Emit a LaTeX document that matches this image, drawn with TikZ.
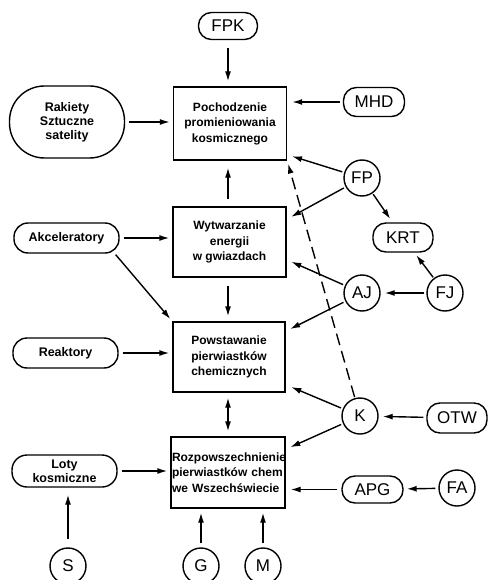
\documentclass[tikz,border=0pt]{standalone}
\usepackage{fontspec}
\setmainfont{Liberation Sans}
\usetikzlibrary{arrows.meta,calc}
\begin{document}
\begin{tikzpicture}[x=1pt,y=-1pt,
  line width=1.4pt,
  arr/.style={-{Latex[length=10pt,width=6pt]}},
  dbl/.style={{Latex[length=10pt,width=6pt]}-{Latex[length=10pt,width=6pt]}},
  boxnode/.style={draw,rectangle,align=center,font=\bfseries\fontsize{12}{15.5}\selectfont,inner sep=1pt},
  pill/.style={draw,rectangle,rounded corners=13pt,font=\fontsize{17}{19}\selectfont,inner sep=0pt},
  lpill/.style={draw,rectangle,rounded corners=14pt,align=center,font=\bfseries\fontsize{12.5}{14}\selectfont,inner sep=0pt},
  circ/.style={draw,circle,minimum size=36pt,inner sep=0pt,font=\fontsize{17}{19}\selectfont},
  dashline/.style={dash pattern=on 12pt off 6pt}
]
\useasboundingbox (0,0) rectangle (487,580);
% boxes
\node[boxnode,minimum width=113pt,minimum height=73pt] (b1) at (230,123.5) {Pochodzenie\\promieniowania\\kosmicznego};
\node[boxnode,minimum width=113pt,minimum height=70pt] (b2) at (229.5,242) {Wytwarzanie\\energii\\w gwiazdach};
\node[boxnode,minimum width=112pt,minimum height=70pt] (b3) at (229,357) {Powstawanie\\pierwiastków\\chemicznych};
\node[boxnode,minimum width=114pt,minimum height=71pt,align=left,text width=112pt] (b4) at (228,472.5) {Rozpowszechnienie\\pierwiastków chem\\we Wszechświecie};
% pills
\node[pill,minimum width=59pt,minimum height=27pt] (FPK) at (228,26) {FPK};
\node[pill,minimum width=61pt,minimum height=29pt] (MHD) at (374,102) {MHD};
\node[pill,minimum width=60pt,minimum height=29pt] (KRT) at (403,237.5) {KRT};
\node[pill,minimum width=60pt,minimum height=30pt] (OTW) at (457,418) {OTW};
\node[pill,minimum width=61pt,minimum height=27pt] (APG) at (372.5,489.5) {APG};
\node[lpill,rounded corners=35pt,minimum width=115pt,minimum height=72pt] (rak) at (67,122) {Rakiety\\Sztuczne\\satelity};
\node[lpill,minimum width=105pt,minimum height=30pt] (akc) at (66.5,238) {Akceleratory};
\node[lpill,minimum width=105pt,minimum height=30pt] (reak) at (65.5,353) {Reaktory};
\node[lpill,rounded corners=15pt,minimum width=105pt,minimum height=32pt] (loty) at (64.5,471) {Loty\\kosmiczne};
% circles
\node[circ] (FP) at (362,178) {FP};
\node[circ] (AJ) at (362,293) {AJ};
\node[circ] (FJ) at (445,293) {FJ};
\node[circ] (K) at (360,416) {K};
\node[circ] (FA) at (457,488) {FA};
\node[circ] (S) at (68,566) {S};
\node[circ] (G) at (201,566) {G};
\node[circ] (M) at (263,566) {M};
% connectors
\draw[arr,shorten <=8pt,shorten >=5pt] (FPK.south) -- (FPK.south |- b1.north);
\draw[arr,shorten <=4pt,shorten >=3pt] (rak.east) -- (rak.east -| b1.west);
\draw[arr,shorten <=3pt,shorten >=5pt] (MHD.west) -- (MHD.west -| b1.east);
\draw[arr,shorten <=2pt,shorten >=5pt] (FP) -- ($(b1.south east)+(0,-6)$);
\draw[arr,shorten <=7pt,shorten >=7pt] (b2.north -| FPK.south) -- (b1.south -| FPK.south);
\draw[arr,dashline,shorten <=1pt,shorten >=3pt] (K) -- (b1.south east);
\draw[arr,shorten <=2pt,shorten >=5pt] (FP) -- ($(b2.north east)+(0,13)$);
\draw[arr,shorten <=1pt,shorten >=4pt] (FP) -- (KRT);
\draw[arr,shorten <=1pt,shorten >=3pt] (FJ) -- (KRT);
\draw[arr,shorten <=2pt,shorten >=4pt] (FJ) -- (AJ);
\draw[arr,shorten <=2pt,shorten >=5pt] (AJ) -- ($(b2.south east)+(0,-18)$);
\draw[arr,shorten <=2pt,shorten >=5pt] (AJ) -- ($(b3.north east)+(0,10)$);
\draw[arr,shorten <=4pt,shorten >=3pt] (akc.east) -- (akc.east -| b2.west);
\draw[arr,shorten >=3pt] ($(akc.south east)+(-4,1)$) -- (b3.north west);
\draw[arr,shorten <=8pt,shorten >=5pt] (b2.south -| FPK.south) -- (b3.north -| FPK.south);
\draw[arr,shorten <=4pt,shorten >=3pt] (reak.east) -- (reak.east -| b3.west);
\draw[dbl,shorten <=5pt,shorten >=5pt] (b3.south -| FPK.south) -- (b4.north -| FPK.south);
\draw[arr,shorten <=2pt,shorten >=6pt] (K) -- ($(b3.south east)+(0,-8)$);
\draw[arr,shorten <=2pt,shorten >=5pt] (K) -- ($(b4.north east)+(0,13)$);
\draw[arr,shorten <=3pt,shorten >=4pt] (OTW) -- (K);
\draw[arr,shorten <=4pt,shorten >=3pt] (loty.east) -- (loty.east -| b4.west);
\draw[arr,shorten <=4pt,shorten >=5pt] (APG.west) -- (APG.west -| b4.east);
\draw[arr,shorten <=3pt,shorten >=3pt] (FA) -- (APG);
\draw[arr,shorten <=8pt,shorten >=7pt] (S.north) -- (S.north |- loty.south);
\draw[arr,shorten <=4pt,shorten >=4pt] (G.north) -- (G.north |- b4.south);
\draw[arr,shorten <=4pt,shorten >=4pt] (M.north) -- (M.north |- b4.south);
\end{tikzpicture}
\end{document}
